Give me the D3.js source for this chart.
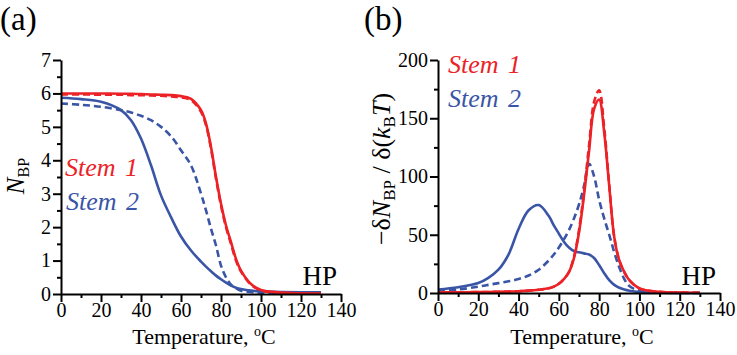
<!DOCTYPE html>
<html>
<head>
<meta charset="utf-8">
<script src="https://cdn.jsdelivr.net/npm/d3@7"></script>
<style>
  body { margin: 0; background: #fff; }
</style>
</head>
<body>
<script>
// define constants
const svgWidth = 737;
const svgHeight = 355;
const serif = "'Liberation Serif'";
const red = '#ec2227';
const blue = '#3a55a6';

// panel (a): number of base pairs vs temperature
const tempA = [0, 10, 20, 30, 35, 40, 45, 50, 55, 60, 65, 70, 72.5, 75, 77.5, 80, 82.5, 85, 87.5, 90, 95, 100, 110, 120, 130];
const stem1SolidA = [6.0, 6.0, 6.0, 5.99, 5.99, 5.98, 5.97, 5.96, 5.95, 5.92, 5.84, 5.5, 5.1, 4.4, 3.5, 2.7, 2.05, 1.55, 1.05, 0.7, 0.3, 0.12, 0.04, 0.02, 0.01];
const stem1DashA = [5.97, 5.97, 5.96, 5.96, 5.95, 5.95, 5.94, 5.93, 5.91, 5.88, 5.8, 5.45, 5.05, 4.35, 3.45, 2.65, 2.0, 1.5, 1.0, 0.67, 0.28, 0.11, 0.04, 0.02, 0.01];
const stem2SolidA = [5.87, 5.83, 5.75, 5.5, 5.2, 4.65, 3.85, 2.95, 2.3, 1.72, 1.3, 0.97, 0.82, 0.68, 0.55, 0.44, 0.34, 0.25, 0.19, 0.15, 0.1, 0.08, 0.06, 0.05, 0.05];
const stem2DashA = [5.7, 5.66, 5.6, 5.5, 5.43, 5.33, 5.2, 5.0, 4.72, 4.3, 3.85, 3.0, 2.5, 1.95, 1.45, 0.85, 0.5, 0.28, 0.17, 0.1, 0.06, 0.04, 0.03, 0.03, 0.03];

// panel (b): melting derivative vs temperature
const tempB = [0, 10, 20, 25, 30, 35, 40, 45, 50, 55, 57.5, 60, 62.5, 65, 67.5, 70, 72.5, 75, 77.5, 80, 82.5, 85, 87.5, 90, 92.5, 95, 100, 110, 120, 130];
const stem1SolidB = [0.5, 0.6, 0.8, 0.9, 1, 1.2, 1.5, 2, 2.8, 4, 5.5, 8, 12, 18, 30, 52, 84, 122, 158, 166, 138, 92, 48, 28, 18, 11, 4, 1, 0.4, 0.2];
const stem1DashB = [0.5, 0.6, 0.8, 0.9, 1, 1.2, 1.5, 2, 2.8, 4, 5.5, 8, 12, 18, 31, 54, 87, 127, 164, 174, 142, 93, 48, 28, 18, 11, 4, 1, 0.4, 0.2];
const stem2SolidB = [3, 5, 8.5, 13, 20, 33, 55, 71, 75.5, 66, 58, 51, 44, 39, 36, 35, 34, 33, 30, 24, 17, 11, 7, 4.5, 3, 2, 0.8, 0.2, 0.1, 0];
const stem2DashB = [2, 3, 5.5, 7, 8.5, 10, 12, 15, 20, 28, 33, 39, 46, 54, 64, 76, 92, 111, 100, 80, 64, 50, 35, 22, 12, 6, 2, 0.5, 0.2, 0.1];

const xTicks = [0, 20, 40, 60, 80, 100, 120, 140];
const yTicksA = [0, 1, 2, 3, 4, 5, 6, 7];
const yTicksB = [0, 50, 100, 150, 200];

const svg = d3.select('body')
              .append('svg')
              .attr('width', svgWidth)
              .attr('height', svgHeight);

// black 2px axis strokes, serif tick text
function styleAxis(g, size) {
    g.selectAll('path, line').attr('stroke', '#000').attr('stroke-width', 2);
    g.selectAll('text')
     .attr('fill', '#000')
     .style('font-family', serif)
     .style('font-size', size);
}

function label(x, y, size) {
    return svg.append('text')
              .attr('x', x)
              .attr('y', y)
              .style('font-family', serif)
              .style('font-size', size);
}

function drawPanel(opts) {
    const xScale = d3.scaleLinear().domain([0, 140]).range([opts.left, opts.right]);
    const yScale = d3.scaleLinear().domain([0, opts.yMax]).range([opts.bottom, opts.top]);

    // minor ticks first
    const xMinor = svg.append('g')
       .attr('transform', 'translate(0,' + opts.bottom + ')')
       .call(d3.axisBottom(xScale).tickValues(d3.range(10, 140, 20)).tickSize(4).tickSizeOuter(0).tickFormat(''));
    xMinor.select('.domain').remove();
    styleAxis(xMinor, '1px');
    const yMinor = svg.append('g')
       .attr('transform', 'translate(' + opts.left + ',0)')
       .call(d3.axisLeft(yScale).tickValues(opts.yMinor).tickSize(4).tickSizeOuter(0).tickFormat(''));
    yMinor.select('.domain').remove();
    styleAxis(yMinor, '1px');

    // series
    const line = d3.line()
                   .x((d, i) => xScale(opts.temps[i]))
                   .y(d => yScale(d))
                   .curve(d3.curveCatmullRom.alpha(0.5));
    opts.series.forEach(s => {
        svg.append('path')
           .attr('d', line(s.values))
           .attr('fill', 'none')
           .attr('stroke', s.color)
           .attr('stroke-width', 2.6)
           .attr('stroke-dasharray', s.dash ? '7,4' : null);
    });

    // major axes
    const xAxis = svg.append('g')
                     .attr('transform', 'translate(0,' + opts.bottom + ')')
                     .call(d3.axisBottom(xScale).tickValues(xTicks).tickFormat(d3.format('d')).tickSize(8).tickSizeOuter(0).tickPadding(1));
    styleAxis(xAxis, '20px');
    const yAxis = svg.append('g')
                     .attr('transform', 'translate(' + opts.left + ',0)')
                     .call(d3.axisLeft(yScale).tickValues(opts.yTicks).tickFormat(d3.format('d')).tickSize(8).tickSizeOuter(0).tickPadding(2));
    styleAxis(yAxis, '20px');

    // x label
    const xl = label((opts.left + opts.right) / 2 + 3, 344, '22px').attr('text-anchor', 'middle');
    xl.append('tspan').text('Temperature, ');
    xl.append('tspan').attr('dy', -8).style('font-size', '14px').text('o');
    xl.append('tspan').attr('dy', 8).text('C');

    // HP tag
    label(opts.right - 4, 285, '27px').attr('text-anchor', 'end').text('HP');

    // panel letter
    label(opts.letterX, 30, '33px').text(opts.letter);

    // stem labels
    opts.stems.forEach(st => {
        label(st.x, st.y, '26px')
           .attr('fill', st.color)
           .style('font-style', 'italic')
           .style('word-spacing', '3px')
           .text(st.label);
    });
}

drawPanel({
    left: 61, right: 341, top: 60, bottom: 294, yMax: 7,
    temps: tempA, yTicks: yTicksA, yMinor: d3.range(0.5, 7, 1),
    letter: '(a)', letterX: 0,
    series: [
        {values: stem2SolidA, color: blue, dash: false},
        {values: stem2DashA, color: blue, dash: true},
        {values: stem1SolidA, color: red, dash: false},
        {values: stem1DashA, color: red, dash: true}
    ],
    stems: [
        {label: 'Stem 1', x: 65, y: 176, color: red},
        {label: 'Stem 2', x: 66, y: 210, color: blue}
    ]
});

drawPanel({
    left: 438, right: 720, top: 60, bottom: 293, yMax: 200,
    temps: tempB, yTicks: yTicksB, yMinor: d3.range(25, 200, 50),
    letter: '(b)', letterX: 364,
    series: [
        {values: stem2SolidB, color: blue, dash: false},
        {values: stem2DashB, color: blue, dash: true},
        {values: stem1SolidB, color: red, dash: false},
        {values: stem1DashB, color: red, dash: true}
    ],
    stems: [
        {label: 'Stem 1', x: 448, y: 73, color: red},
        {label: 'Stem 2', x: 448, y: 107, color: blue}
    ]
});

// y label (a): N_BP
const ylA = svg.append('text')
               .attr('transform', 'translate(24,176) rotate(-90)')
               .attr('text-anchor', 'middle')
               .style('font-family', serif)
               .style('font-size', '25px');
ylA.append('tspan').style('font-style', 'italic').text('N');
ylA.append('tspan').attr('dy', 5).style('font-size', '16px').text('BP');

// y label (b): -dN_BP / d(k_B T)
const ylB = svg.append('text')
               .attr('transform', 'translate(390,169) rotate(-90)')
               .attr('text-anchor', 'middle')
               .style('font-family', serif)
               .style('font-size', '26px');
ylB.append('tspan').text('\u2212\u03b4');
ylB.append('tspan').style('font-style', 'italic').text('N');
ylB.append('tspan').attr('dy', 5).style('font-size', '17px').text('BP');
ylB.append('tspan').attr('dy', -5).text(' / \u03b4(');
ylB.append('tspan').style('font-style', 'italic').text('k');
ylB.append('tspan').attr('dy', 5).style('font-size', '17px').text('B');
ylB.append('tspan').attr('dy', -5).style('font-style', 'italic').text('T');
ylB.append('tspan').text(')');
</script>
</body>
</html>
